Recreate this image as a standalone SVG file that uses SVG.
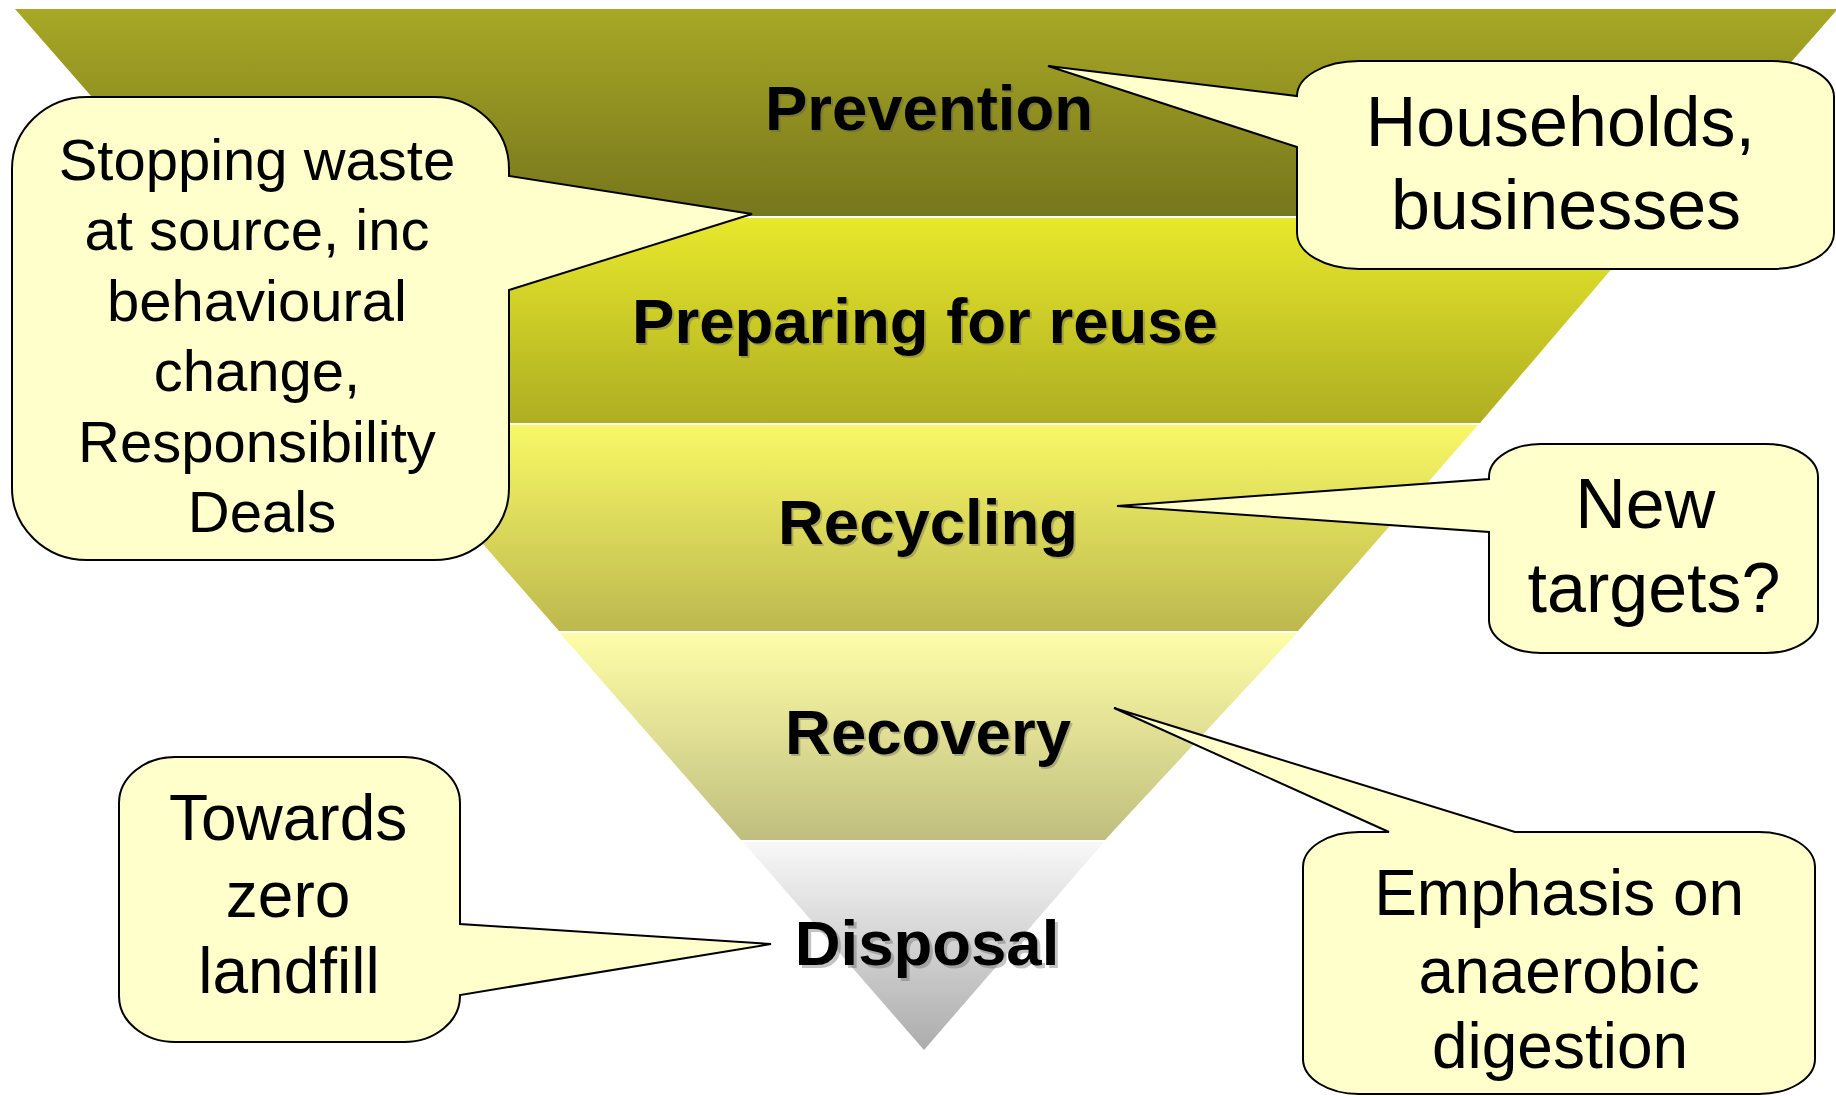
<svg xmlns="http://www.w3.org/2000/svg" width="1836" height="1096" viewBox="0 0 1836 1096">
<defs>
<linearGradient id="g1" x1="0" y1="0" x2="0" y2="1"><stop offset="0" stop-color="#A8A826"/><stop offset="1" stop-color="#76761C"/></linearGradient>
<linearGradient id="g2" x1="0" y1="0" x2="0" y2="1"><stop offset="0" stop-color="#E8E82C"/><stop offset="1" stop-color="#AEAE22"/></linearGradient>
<linearGradient id="g3" x1="0" y1="0" x2="0" y2="1"><stop offset="0" stop-color="#F8F866"/><stop offset="1" stop-color="#BDB84E"/></linearGradient>
<linearGradient id="g4" x1="0" y1="0" x2="0" y2="1"><stop offset="0" stop-color="#FEFEA8"/><stop offset="1" stop-color="#C0BE7E"/></linearGradient>
<linearGradient id="g5" x1="0" y1="0" x2="0" y2="1"><stop offset="0" stop-color="#F8F8F8"/><stop offset="1" stop-color="#ACACAC"/></linearGradient>
</defs>
<style>
.lbl{font-family:"Liberation Sans",Arial,sans-serif;font-weight:bold;font-size:63.5px;text-anchor:middle;fill:#000}
.sh{fill:#555;opacity:0.35}
.co{fill:#FFFFCC;stroke:#000;stroke-width:2;stroke-linejoin:miter}
.ct{font-family:"Liberation Sans",Arial,sans-serif;text-anchor:middle;fill:#000}
</style>
<rect width="1836" height="1096" fill="#fff"/>
<g id="funnel">
<g id="band-prevention">
<polygon points="15,9 1836,9 1836,11 1656,216 196,216" fill="url(#g1)"/>
<text class="lbl sh" x="931" y="132">Prevention</text>
<text class="lbl" x="929" y="130">Prevention</text>
</g>
<g id="band-reuse">
<polygon points="198,218 1655,218 1480,423 377,423" fill="url(#g2)"/>
<text class="lbl sh" x="927" y="345">Preparing for reuse</text>
<text class="lbl" x="925" y="343">Preparing for reuse</text>
</g>
<g id="band-recycling">
<polygon points="379,425 1478,425 1298,631 559,631" fill="url(#g3)"/>
<text class="lbl sh" x="930" y="546">Recycling</text>
<text class="lbl" x="928" y="544">Recycling</text>
</g>
<g id="band-recovery">
<polygon points="560,633 1297,633 1105,840 741,840" fill="url(#g4)"/>
<text class="lbl sh" x="930" y="756">Recovery</text>
<text class="lbl" x="928" y="754">Recovery</text>
</g>
<g id="band-disposal">
<polygon points="743,842 1104,842 924,1050" fill="url(#g5)"/>
<text class="lbl sh" x="930" y="968">Disposal</text>
<text class="lbl" x="927" y="965">Disposal</text>
</g>
</g>
<g id="callouts">
<g id="callout-stopping">
<path class="co" d="M87,97 H434 A75 72 0 0 1 509,169 V176 L752,214 L509,290 V488 A75 72 0 0 1 434,560 H87 A75 72 0 0 1 12,488 V169 A75 72 0 0 1 87,97 Z"/>
<text class="ct" font-size="58">
<tspan x="265" y="180">Stopping waste</tspan>
<tspan x="265" y="250">at source, inc</tspan>
<tspan x="265" y="321">behavioural</tspan>
<tspan x="265" y="391">change,</tspan>
<tspan x="265" y="462">Responsibility</tspan>
<tspan x="262" y="532">Deals</tspan>
</text>
</g>
<g id="callout-households">
<path class="co" d="M1359,61 H1772 A62 36 0 0 1 1834,97 V233 A62 36 0 0 1 1772,269 H1359 A62 36 0 0 1 1297,233 V147 L1048,66 L1297,96 A62 35 0 0 1 1359,61 Z"/>
<text class="ct" font-size="70">
<tspan x="1570" y="146">Households,</tspan>
<tspan x="1566" y="229">businesses</tspan>
</text>
</g>
<g id="callout-targets">
<path class="co" d="M1541,444 H1766 A52 33 0 0 1 1818,477 V620 A52 33 0 0 1 1766,653 H1541 A52 33 0 0 1 1489,620 V532 L1117,506 L1489,479 V477 A52 33 0 0 1 1541,444 Z"/>
<text class="ct" font-size="70">
<tspan x="1655" y="528">New</tspan>
<tspan x="1654" y="612">targets?</tspan>
</text>
</g>
<g id="callout-emphasis">
<path class="co" d="M1359,832 H1389 L1114,708 L1515,832 H1759 A56 35 0 0 1 1815,867 V1059 A56 35 0 0 1 1759,1094 H1359 A56 35 0 0 1 1303,1059 V867 A56 35 0 0 1 1359,832 Z"/>
<text class="ct" font-size="64">
<tspan x="1568" y="915">Emphasis on</tspan>
<tspan x="1568" y="993">anaerobic</tspan>
<tspan x="1560" y="1068">digestion</tspan>
</text>
</g>
<g id="callout-landfill">
<path class="co" d="M175,757 H404 A56 46 0 0 1 460,803 V924 L771,944 L460,995 V996 A56 46 0 0 1 404,1042 H175 A56 46 0 0 1 119,996 V803 A56 46 0 0 1 175,757 Z"/>
<text class="ct" font-size="64">
<tspan x="297" y="840">Towards</tspan>
<tspan x="297" y="917">zero</tspan>
<tspan x="289" y="993">landfill</tspan>
</text>
</g>
</g>
</svg>
